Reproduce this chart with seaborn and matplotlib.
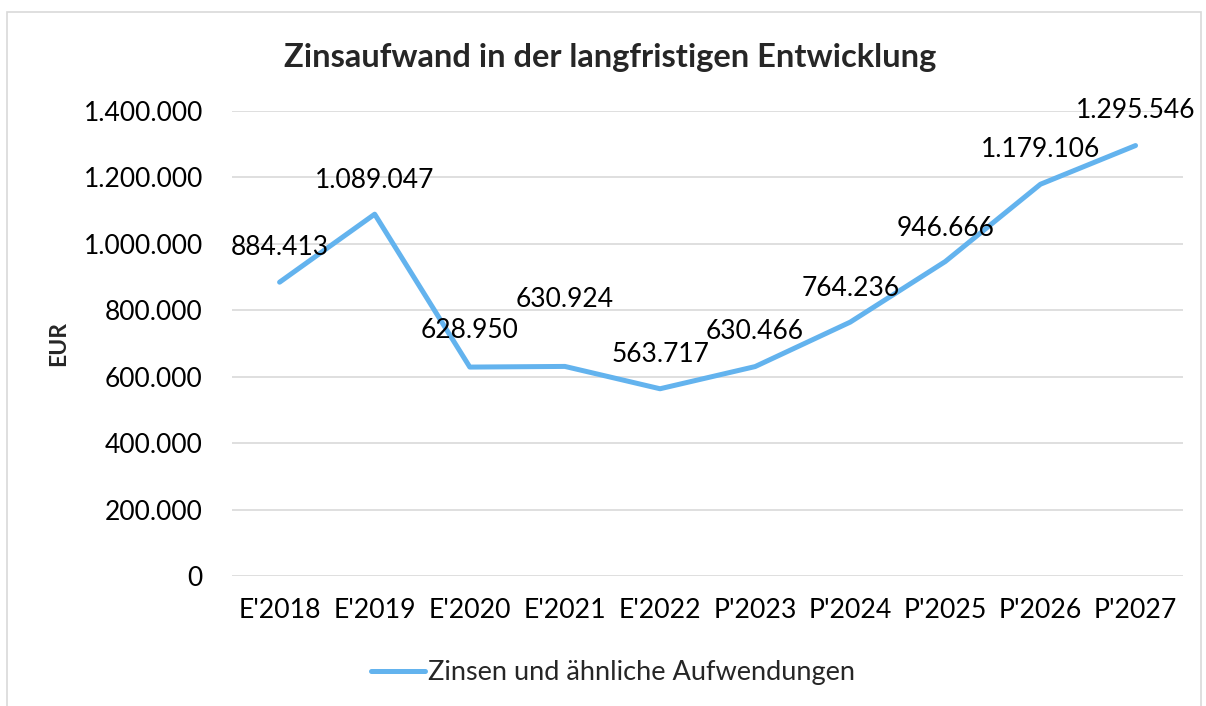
import numpy as np
import pandas as pd
import matplotlib
matplotlib.use("Agg")
import matplotlib.pyplot as plt
import seaborn as sns
from matplotlib.ticker import FuncFormatter
from matplotlib.patches import Rectangle

# Data
years = ["E'2018", "E'2019", "E'2020", "E'2021", "E'2022",
         "P'2023", "P'2024", "P'2025", "P'2026", "P'2027"]
zinsen = [884413, 1089047, 628950, 630924, 563717,
          630466, 764236, 946666, 1179106, 1295546]
series_name = "Zinsen und ähnliche Aufwendungen"

# label offsets (points) above each data point
label_dy = [25, 24, 26, 48, 25, 25, 24, 24, 25, 25]


def de_format(v, pos=None):
    return f"{int(round(v)):,}".replace(",", ".")


def main():
    sns.set_theme(style="white")
    plt.rcParams["font.family"] = ["Lato", "DejaVu Sans"]

    df = pd.DataFrame({"Jahr": years, "Wert": zinsen})

    fig = plt.figure(figsize=(12.06, 7.06), dpi=100)
    ax = fig.add_axes([0.1924, 0.184, 0.7886, 0.659])

    sns.lineplot(data=df, x="Jahr", y="Wert", sort=False, color="#63B3EE",
                 linewidth=3.6, ax=ax, label=series_name)

    ax.set_ylim(0, 1400000)
    ax.set_xlim(-0.5, 9.5)
    ax.set_yticks(np.arange(0, 1400001, 200000))
    ax.yaxis.set_major_formatter(FuncFormatter(de_format))
    ax.grid(axis="y", color="#D9D9D9", linewidth=1.2)
    ax.set_axisbelow(True)
    for s in ax.spines.values():
        s.set_visible(False)
    ax.tick_params(axis="y", length=0, labelsize=19, colors="black", pad=21)
    ax.tick_params(axis="x", length=0, labelsize=19.2, colors="black", pad=16)
    ax.set_xlabel("")
    ax.set_ylabel("")

    for i, v in enumerate(zinsen):
        ax.annotate(de_format(v), (i, v), xytext=(0, label_dy[i]),
                    textcoords="offset points", ha="center", va="center",
                    fontsize=19, color="black")

    fig.text(0.506, 0.918, "Zinsaufwand in der langfristigen Entwicklung",
             ha="center", va="center", fontsize=23.5, fontweight="bold")
    fig.text(0.049, 0.514, "EUR", ha="center", va="center", rotation=90,
             fontsize=16.5, fontweight="bold")

    ax.legend(loc="center", bbox_to_anchor=(0.508, 0.047),
              bbox_transform=fig.transFigure, frameon=False,
              fontsize=19.5, handlelength=2.0, handletextpad=0.1)

    # chart frame
    fig.patches.append(Rectangle((0.006, -0.02), 0.99, 1.003, transform=fig.transFigure,
                                 fill=False, edgecolor="#D9D9D9", linewidth=1.2))

    fig.savefig("out.png", dpi=100)
    plt.close(fig)


if __name__ == "__main__":
    main()
